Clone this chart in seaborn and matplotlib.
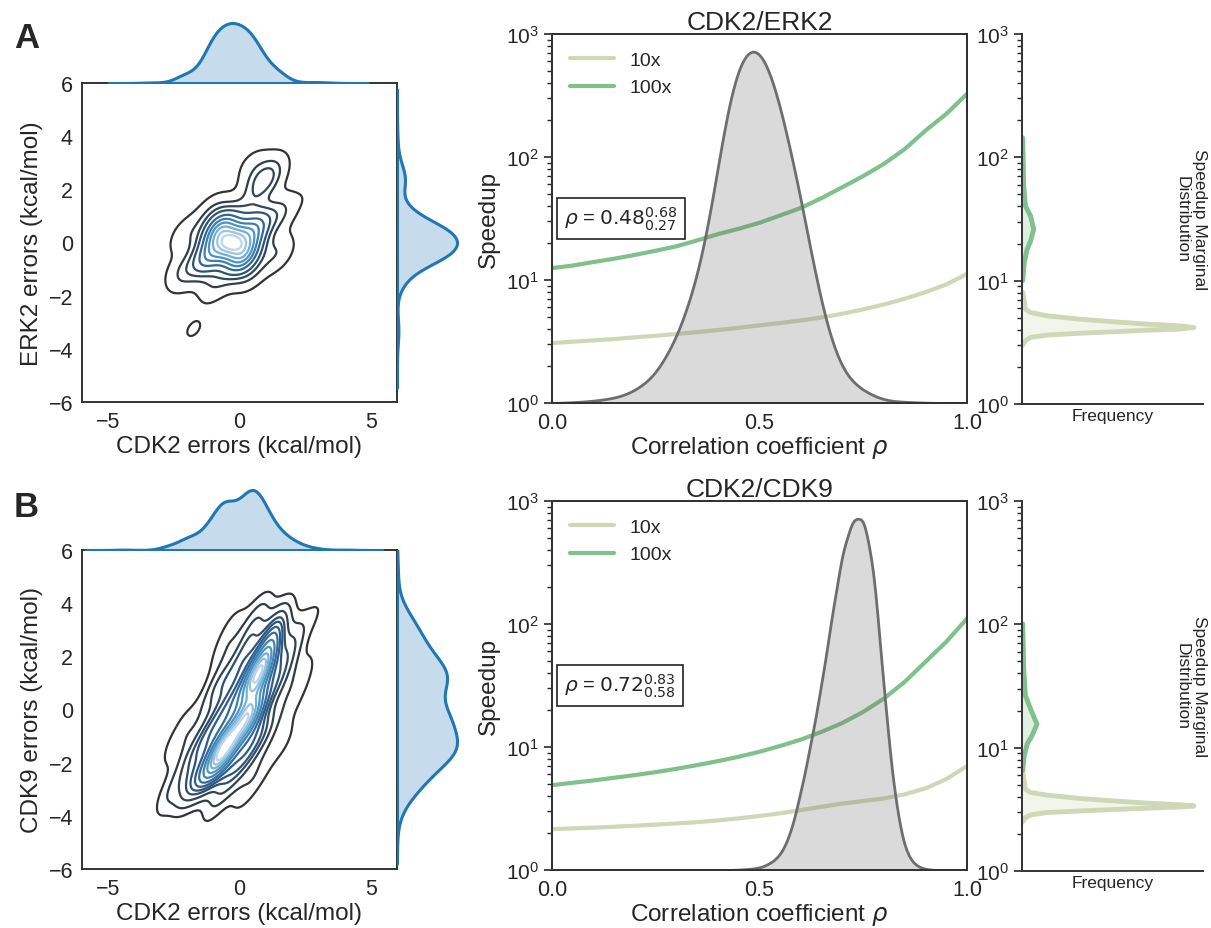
import matplotlib
matplotlib.use("Agg")
import matplotlib.pyplot as plt
import seaborn as sns

# ---------------- data ----------------
# panel A: weighted anchor samples of CDK2 / ERK2 errors (kcal/mol)
a_x = [-0.3, 0.6, -1.2, -0.65, 0.05, 0.3, -0.9,
       1.5, -2.1, -1.0, 0.4, 1.4, -2.0, 0.3, -0.9,
       0.9, 0.5, 1.3, -1.75, -3.3, 3.2, 2.6, 0.0, -0.8]
a_y = [0.0, 0.55, -0.55, 0.55, -0.55, -0.3, 0.3,
       1.1, -1.1, 1.1, -1.1, -0.4, 0.3, 1.3, -1.5,
       2.3, 2.9, 2.8, -3.25, -0.8, 0.5, 1.8, -3.5, 3.8]
a_w = [8, 4, 4, 4, 4, 3, 3,
       1.2, 1.2, 1.0, 1.0, 1.0, 0.8, 0.9, 1.0,
       2.2, 0.5, 0.5, 0.38, 0.15, 0.15, 0.2, 0.15, 0.15]

# panel B: weighted anchor samples of CDK2 / CDK9 errors (kcal/mol)
b_x = [0.7, 0.3, -0.6, 1.1, 1.4, -1.2, -1.9, -2.7, 0.0, -0.2,
       1.37, 0.03, 0.97, -0.37, 0.07, -1.27, 1.77, 0.43, -0.53, -1.87,
       0.67, -0.67, 0.47, -0.87, 2.07, 0.73,
       2.04, -0.64, 1.64, -1.04, 0.74, -1.94, 2.44, -0.24, 0.14, -2.54,
       2.9, -2.2, -1.1, -4.4, 4.0, 2.5]
b_y = [1.3, -0.3, -1.5, 2.3, 3.2, -2.3, -2.9, -3.2, 0.5, -0.9,
       0.87, 1.73, -0.73, 0.13, -1.93, -1.07, 1.87, 2.73, -2.73, -1.87,
       0.07, 0.93, -1.33, -0.47, 2.77, 3.63,
       0.44, 2.16, -1.16, 0.56, -2.36, -0.64, 1.44, 3.16, -3.16, -1.44,
       3.6, 0.5, -3.8, -3.5, 5.0, 5.2]
b_w = [6, 5, 6, 2.4, 1.2, 2.4, 1.2, 0.6, 1.2, 1.2,
       1.2, 1.2, 1.1, 1.1, 1.2, 1.2, 1.0, 1.0, 1.0, 1.0,
       0.9, 0.9, 0.9, 0.9, 0.6, 0.6,
       0.45, 0.45, 0.45, 0.45, 0.45, 0.45, 0.4, 0.4, 0.4, 0.4,
       0.3, 0.3, 0.3, 0.1, 0.1, 0.1]

# speedup vs correlation coefficient
rho_grid = [0.0, 0.05, 0.1, 0.15, 0.2, 0.25, 0.3, 0.35, 0.4, 0.45, 0.5,
            0.55, 0.6, 0.65, 0.7, 0.75, 0.8, 0.85, 0.9, 0.95, 1.0]
a_speed10 = [3.07, 3.15, 3.23, 3.31, 3.42, 3.52, 3.64, 3.77, 3.92, 4.09, 4.28,
             4.47, 4.69, 4.96, 5.32, 5.77, 6.33, 7.04, 7.97, 9.2, 11.2]
a_speed100 = [12.5, 13.1, 14.0, 14.9, 16.0, 17.3, 18.8, 21.0, 23.6, 26.1, 29.2,
              33.5, 38.6, 46.4, 56.9, 70, 88, 116, 164, 224, 326]
b_speed10 = [2.15, 2.18, 2.21, 2.25, 2.29, 2.34, 2.39, 2.45, 2.53, 2.63, 2.75,
             2.89, 3.07, 3.27, 3.47, 3.64, 3.82, 4.12, 4.61, 5.48, 7.0]
b_speed100 = [4.90, 5.12, 5.35, 5.62, 5.91, 6.25, 6.65, 7.13, 7.68, 8.33, 9.15,
              10.2, 11.5, 13.3, 15.7, 19.3, 24.8, 33.9, 49.3, 71.6, 110.8]

# posterior of rho (relative density on a 0.025 grid)
rho_fine = [i / 40 for i in range(41)]
a_rho_dens = [0.0, 0.001, 0.002, 0.004, 0.006, 0.010, 0.014, 0.022, 0.035, 0.055,
              0.08, 0.13, 0.18, 0.26, 0.35, 0.48, 0.66, 0.84, 0.95, 0.995,
              0.99, 0.93, 0.83, 0.70, 0.57, 0.41, 0.27, 0.16, 0.09, 0.055,
              0.035, 0.02, 0.008, 0.005, 0.003, 0.002, 0.001, 0.0, 0.0, 0.0, 0.0]
b_rho_dens = [0.0, 0.0, 0.0, 0.0, 0.0, 0.0, 0.0, 0.0, 0.0, 0.0,
              0.0, 0.0, 0.0, 0.0, 0.0, 0.0, 0.0, 0.0, 0.001, 0.003,
              0.006, 0.018, 0.04, 0.10, 0.22, 0.36, 0.52, 0.71, 0.89, 0.98,
              0.99, 0.85, 0.49, 0.20, 0.05, 0.012, 0.002, 0.0, 0.0, 0.0, 0.0]

# speedup marginal distributions (relative frequency)
a_m10_speed = [8.0, 5.87, 5.52, 5.19, 4.87, 4.64, 4.44, 4.30, 4.17, 4.05, 3.97, 3.85, 3.75, 3.62, 3.47, 3.26, 2.96]
a_m10_freq = [0.005, 0.02, 0.05, 0.146, 0.34, 0.534, 0.728, 0.92, 1.0, 0.92, 0.73, 0.53, 0.34, 0.146, 0.05, 0.02, 0.0]
a_m100_speed = [144, 58.5, 40.3, 33.4, 26.1, 21.0, 18.0, 14.0, 10.0]
a_m100_freq = [0.004, 0.01, 0.02, 0.05, 0.068, 0.05, 0.03, 0.013, 0.004]
b_m10_speed = [6.29, 4.6, 4.33, 4.12, 3.87, 3.7, 3.55, 3.44, 3.37, 3.31, 3.23, 3.15, 3.07, 2.98, 2.85, 2.71, 2.47]
b_m10_freq = [0.005, 0.02, 0.05, 0.146, 0.34, 0.534, 0.728, 0.92, 1.0, 0.92, 0.73, 0.53, 0.34, 0.146, 0.05, 0.02, 0.0]
b_m100_speed = [101, 43.5, 26.4, 19.3, 15.5, 12.5, 10.7, 8.6, 6.5]
b_m100_freq = [0.004, 0.01, 0.02, 0.058, 0.087, 0.058, 0.03, 0.013, 0.004]

a_levels = [0.05, 0.15, 0.25, 0.35, 0.45, 0.55, 0.65, 0.75, 0.85, 0.93]
b_levels = [0.05, 0.13, 0.21, 0.29, 0.37, 0.45, 0.53, 0.61, 0.69, 0.77, 0.85, 0.92]

# ---------------- style ----------------
sns.set_style("white")
plt.rcParams["font.family"] = ["Liberation Sans", "DejaVu Sans"]
plt.rcParams["axes.edgecolor"] = "#333333"
plt.rcParams["axes.linewidth"] = 1.4

W, H = 1211, 929
BLUE = "#1f77b4"
C10 = "#cfd8b6"
C100 = "#80c08c"
CMAP = sns.blend_palette(["#333333", "#2d5f8e", "#4a98c9", "#bad6eb"], as_cmap=True)


def box(l, t, r, b):
    return [l / W, 1 - b / H, (r - l) / W, (b - t) / H]


def joint(fig, top, xs, ys, ws, levels, ylabel, bw):
    ax = fig.add_axes(box(82, top, 397, top + 319))
    ax_t = fig.add_axes(box(82, top - 63, 397, top))
    ax_r = fig.add_axes(box(397, top, 460, top + 319))
    sns.kdeplot(x=xs, y=ys, weights=ws, levels=levels, cmap=CMAP, bw_adjust=bw,
                linewidths=1.6, ax=ax)
    ax.set_xlim(-6, 6)
    ax.set_ylim(-6, 6)
    ax.set_xticks([-5, 0, 5])
    ax.set_yticks([-6, -4, -2, 0, 2, 4, 6])
    ax.tick_params(labelsize=15.5, pad=3)
    ax.set_xlabel("CDK2 errors (kcal/mol)", fontsize=17.5, labelpad=2)
    ax.set_ylabel(ylabel, fontsize=17.5)

    sns.kdeplot(x=xs, weights=ws, bw_adjust=bw, fill=True, color=BLUE, alpha=0.25,
                linewidth=2.2, clip=(-6, 6), ax=ax_t)
    ax_t.set_xlim(-6, 6)
    ax_t.set_ylim(bottom=0)
    ax_t.axis("off")
    sns.kdeplot(y=ys, weights=ws, bw_adjust=bw, fill=True, color=BLUE, alpha=0.25,
                linewidth=2.2, clip=(-6, 6), ax=ax_r)
    ax_r.set_ylim(-6, 6)
    ax_r.set_xlim(left=0)
    ax_r.axis("off")
    return ax


def speed(fig, top, title, s10, s100, dens, m10s, m10f, m100s, m100f, note):
    ax = fig.add_axes(box(552, top, 967, top + 369))
    sns.lineplot(x=rho_grid, y=s10, color=C10, linewidth=3, label="10x", ax=ax)
    sns.lineplot(x=rho_grid, y=s100, color=C100, linewidth=3, label="100x", ax=ax)
    ax.set_yscale("log")
    ax.set_ylim(1, 1000)
    ax.set_xlim(0, 1)
    ax.set_xticks([0.0, 0.5, 1.0])
    ax.set_xticklabels(["0.0", "0.5", "1.0"])
    ax.tick_params(axis="x", labelsize=15.5, pad=3)
    ax.tick_params(axis="y", which="major", left=True, length=6, width=1.2, labelsize=15)
    ax.tick_params(axis="y", which="minor", left=True, length=3.5, width=1.0)
    ax.set_xlabel("Correlation coefficient $\\rho$", fontsize=17.5, labelpad=1)
    ax.set_ylabel("Speedup", fontsize=17.5)
    ax.set_title(title, fontsize=19, pad=3)
    ax.legend(loc="upper left", frameon=False, fontsize=14, handlelength=2.3,
              borderaxespad=0.5)
    ax.text(0.03, 0.5, "$\\rho$ = $%s$" % note, transform=ax.transAxes, fontsize=14.5,
            va="center", ha="left",
            bbox=dict(boxstyle="square,pad=0.35", fc="white", ec="#222222", lw=1.2))

    ax2 = ax.twinx()
    sns.kdeplot(x=rho_fine, weights=dens, bw_adjust=0.35, clip=(0, 1), fill=True,
                color="#6e6e6e", alpha=0.25, linewidth=2, ax=ax2)
    peak = max(ax2.collections[0].get_paths()[0].vertices[:, 1])
    ax2.set_ylim(0, peak / 0.952)
    ax2.set_yticks([])
    ax2.set_ylabel("")

    axm = fig.add_axes(box(1022, top, 1203, top + 370))
    sns.lineplot(x=m10f, y=m10s, sort=False, estimator=None, orient="y", color=C10,
                 linewidth=3.5, ax=axm)
    axm.fill_betweenx(m10s, 0, m10f, color=C10, alpha=0.25, linewidth=0)
    sns.lineplot(x=m100f, y=m100s, sort=False, estimator=None, orient="y", color=C100,
                 linewidth=3.5, ax=axm)
    axm.fill_betweenx(m100s, 0, m100f, color=C100, alpha=0.25, linewidth=0)
    axm.set_yscale("log")
    axm.set_ylim(1, 1000)
    axm.set_xlim(0, 1 / 0.95)
    axm.set_xticks([])
    axm.tick_params(axis="y", which="major", left=True, length=6, width=1.2, labelsize=15)
    axm.tick_params(axis="y", which="minor", left=True, length=3.5, width=1.0)
    sns.despine(ax=axm)
    axm.set_xlabel("Frequency", fontsize=12.5, labelpad=3)
    axm.set_ylabel("")
    axm.text(0.93, 0.5, "Speedup Marginal\nDistribution", transform=axm.transAxes,
             rotation=270, ha="center", va="center", fontsize=12.5)


fig = plt.figure(figsize=(W / 100, H / 100), dpi=100)

joint(fig, 84, a_x, a_y, a_w, a_levels, "ERK2 errors (kcal/mol)", 0.7)
joint(fig, 551, b_x, b_y, b_w, b_levels, "CDK9 errors (kcal/mol)", 0.6)

speed(fig, 35, "CDK2/ERK2", a_speed10, a_speed100, a_rho_dens,
      a_m10_speed, a_m10_freq, a_m100_speed, a_m100_freq, "0.48^{0.68}_{0.27}")
speed(fig, 502, "CDK2/CDK9", b_speed10, b_speed100, b_rho_dens,
      b_m10_speed, b_m10_freq, b_m100_speed, b_m100_freq, "0.72^{0.83}_{0.58}")

fig.text(14 / W, 1 - 22 / H, "A", fontsize=25, fontweight="bold", va="top")
fig.text(14 / W, 1 - 491 / H, "B", fontsize=25, fontweight="bold", va="top")

fig.savefig("out.png", dpi=100)
